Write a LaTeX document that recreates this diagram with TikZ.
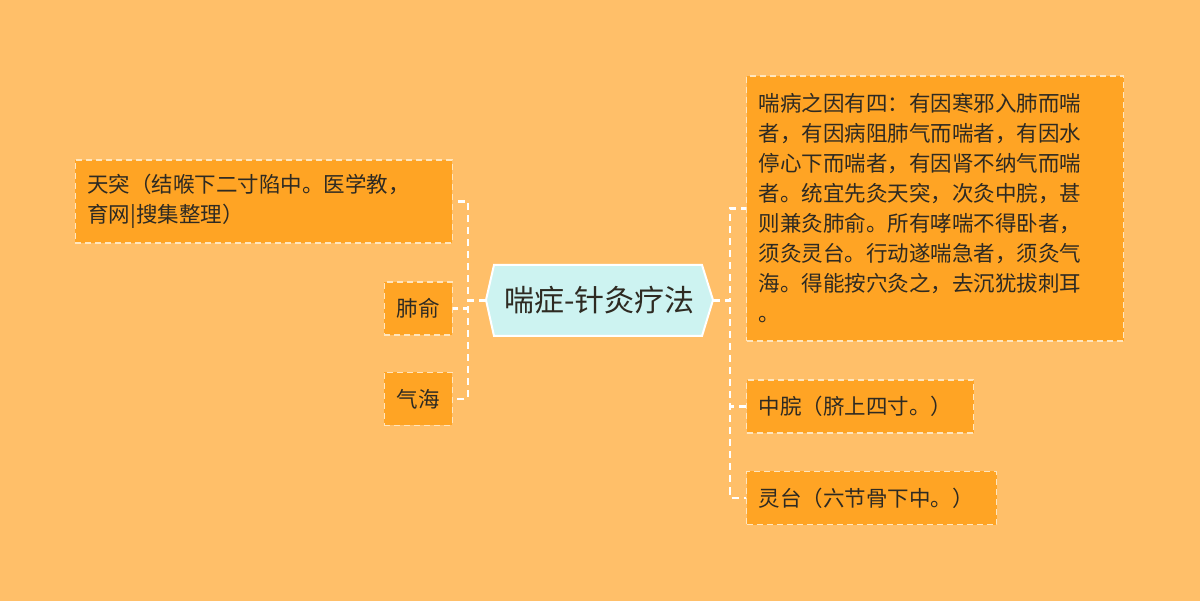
\documentclass[tikz,border=0pt]{standalone}
\usepackage{fontspec}
\setmainfont{Noto Sans CJK SC}
\definecolor{bgorange}{HTML}{FFBF69}
\definecolor{boxorange}{HTML}{FFA424}
\definecolor{rootcyan}{HTML}{CDF3F1}
\definecolor{inkdark}{HTML}{2E2A22}
\definecolor{edgelight}{HTML}{FFE6BE}
\tikzset{
  leaf/.style={draw=edgelight, dash pattern=on 6pt off 4pt, line width=1.3pt,
    fill=boxorange, text=inkdark, font=\fontsize{21.5}{30}\selectfont,
    inner xsep=12pt, inner ysep=0pt, align=left},
  link/.style={draw=white, line width=2.2pt, dash pattern=on 7pt off 5pt},
}
\begin{document}
\begin{tikzpicture}[x=1pt,y=-1pt]
    % Fundo
    \useasboundingbox (0,0) rectangle (1200,601);
    \fill[bgorange] (0,0) rectangle (1200,601);

    % Tema central
    \draw[white, line width=2pt, fill=rootcyan]
        (486,300) -- (494,265) -- (702,265) -- (713,300) -- (702,336) -- (494,336) -- cycle;
    \node[minimum width=227pt, minimum height=71pt, inner sep=0pt, text=inkdark,
        font=\fontsize{30}{34}\selectfont] (root) at (599.5,300.5) {喘症-针灸疗法};

    % Ramos da direita
    \node[leaf, anchor=west, text width=353pt, minimum height=265pt] (causas) at (746,208.5)
        {喘病之因有四：有因寒邪入肺而喘\\者，有因病阻肺气而喘者，有因水\\停心下而喘者，有因肾不纳气而喘\\者。统宜先灸天突，次灸中脘，甚\\则兼灸肺俞。所有哮喘不得卧者，\\须灸灵台。行动遂喘急者，须灸气\\海。得能按穴灸之，去沉犹拔刺耳\\。};
    \node[leaf, anchor=west, text width=203pt, minimum height=53pt] (zhongwan) at (746,406.5)
        {中脘（脐上四寸。）};
    \node[leaf, anchor=west, text width=226pt, minimum height=53pt] (lingtai) at (746,498)
        {灵台（六节骨下中。）};

    % Ramos da esquerda
    \node[leaf, anchor=east, text width=353pt, minimum height=83pt] (tiantu) at (453,201.5)
        {天突（结喉下二寸陷中。医学教，\\育网|搜集整理）};
    \node[leaf, anchor=east, minimum width=68pt, minimum height=53pt] (feishu) at (453,308.5) {肺俞};
    \node[leaf, anchor=east, minimum width=68pt, minimum height=53pt] (qihai) at (453,399) {气海};

    % Ligacoes
    \draw[link] (root.east) -- ++(17,0) |- (causas.west);
    \draw[link] (root.east) -- ++(17,0) |- (zhongwan.west);
    \draw[link] (root.east) -- ++(17,0) |- (lingtai.west);
    \draw[link] (root.west) -- ++(-18,0) |- (tiantu.east);
    \draw[link] (root.west) -- ++(-18,0) |- (feishu.east);
    \draw[link] (root.west) -- ++(-18,0) |- (qihai.east);
\end{tikzpicture}
\end{document}
